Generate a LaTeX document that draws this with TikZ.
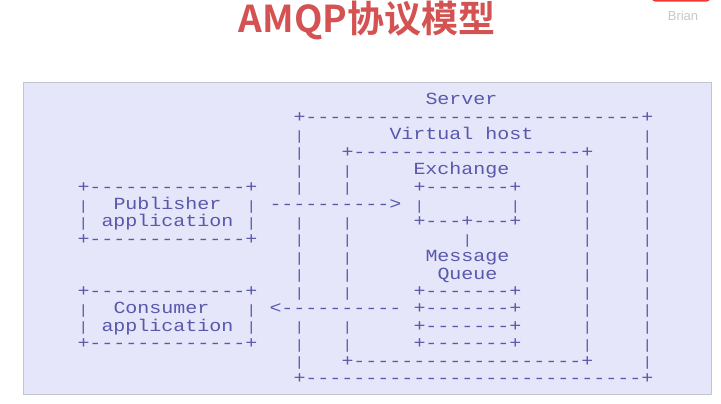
\documentclass[tikz,border=0pt]{standalone}
\usepackage{fontspec}
\setmainfont{Liberation Sans}
\setmonofont{Liberation Mono}[FakeStretch=1.176]
\newfontfamily\cjk{Noto Sans CJK SC}[BoldFont={Noto Sans CJK SC Bold}]
\usepackage{tikz}
\usetikzlibrary{positioning}

\definecolor{panelbg}{RGB}{230,230,250}
\definecolor{panelline}{RGB}{196,196,206}
\definecolor{asciiblue}{RGB}{88,88,172}
\definecolor{titlered}{RGB}{212,82,82}
\definecolor{barred}{RGB}{238,58,58}
\definecolor{namegrey}{RGB}{200,200,200}

\begin{document}
\begin{tikzpicture}[x=1pt, y=-1pt, every node/.style={inner sep=0pt},
    ascii/.style={font=\ttfamily\fontsize{17}{17}\selectfont, text=asciiblue, anchor=base west},
    wall/.style={font=\ttfamily\fontsize{13.5}{13.5}\selectfont, text=asciiblue, anchor=base, xshift=6pt, yshift=-0.6pt}]
  \useasboundingbox (0,0) rectangle (721,404);
  \fill[white] (0,0) rectangle (721,404);

  % slide header
  \node (title) [font=\cjk\bfseries\fontsize{37}{37}\selectfont, text=titlered] at (367,20) {AMQP协议模型};
  \fill[barred, rounded corners=3pt] (652,-6) rectangle (710,1.6);
  \node (author) [font=\fontsize{13}{13}\selectfont, text=namegrey] at (683,16) {Brian};

  % panel
  \node (panel) [draw=panelline, fill=panelbg, minimum width=688pt, minimum height=311pt, anchor=north west] at (22.5,82.5) {};

  % ascii model, one cell = 12pt x 17.4pt
  \begin{scope}[shift={(77.3pt,-105pt)}, x=12pt, y=-17.4pt]
    \node (srv_label) [ascii] at (29,0) {Server};
    \node (srv_top) [ascii] at (18,1) {+----------------------------+};
    \node (vh_label) [ascii] at (26,2) {Virtual host};
    \node (vh_top) [ascii] at (22,3) {+-------------------+};
    \node (ex_label) [ascii] at (28,4) {Exchange};
    \node (ex_top) [ascii] at (28,5) {+-------+};
    \node (ex_left) [wall] at (28,6) {|};
    \node (ex_right) [wall] at (36,6) {|};
    \node (ex_bottom) [ascii] at (28,7) {+---+---+};
    \node (ex_link) [wall] at (32,8) {|};
    \node (mq_label) [ascii] at (29,9) {Message};
    \node (mq_label2) [ascii] at (30,10) {Queue};
    \foreach \r in {11,...,14}
      \node (mq_\r) [ascii] at (28,\r) {+-------+};
    \node (vh_bottom) [ascii] at (22,15) {+-------------------+};
    \node (srv_bottom) [ascii] at (18,16) {+----------------------------+};

    % side walls
    \foreach \r in {2,3,4,5,7,8,9,10,11,13,14,15}
      \node (srv_l\r) [wall] at (18,\r) {|};
    \foreach \r in {2,...,15}
      \node (srv_r\r) [wall] at (47,\r) {|};
    \foreach \r in {4,5,7,8,9,10,11,13,14}
      \node (vh_l\r) [wall] at (22,\r) {|};
    \foreach \r in {4,...,14}
      \node (vh_r\r) [wall] at (42,\r) {|};

    % publisher
    \node (pub_top) [ascii] at (0,5) {+-------------+};
    \node (pub_left) [wall] at (0,6) {|};
    \node (pub_label) [ascii] at (3,6) {Publisher};
    \node (pub_right) [wall] at (14,6) {|};
    \node (pub_left2) [wall] at (0,7) {|};
    \node (pub_label2) [ascii] at (2,7) {application};
    \node (pub_right2) [wall] at (14,7) {|};
    \node (pub_bottom) [ascii] at (0,8) {+-------------+};
    \node (pub_arrow) [ascii] at (16,6) {---------->};

    % consumer
    \node (con_top) [ascii] at (0,11) {+-------------+};
    \node (con_left) [wall] at (0,12) {|};
    \node (con_label) [ascii] at (3,12) {Consumer};
    \node (con_right) [wall] at (14,12) {|};
    \node (con_left2) [wall] at (0,13) {|};
    \node (con_label2) [ascii] at (2,13) {application};
    \node (con_right2) [wall] at (14,13) {|};
    \node (con_bottom) [ascii] at (0,14) {+-------------+};
    \node (con_arrow) [ascii] at (16,12) {<----------};
  \end{scope}
\end{tikzpicture}
\end{document}
